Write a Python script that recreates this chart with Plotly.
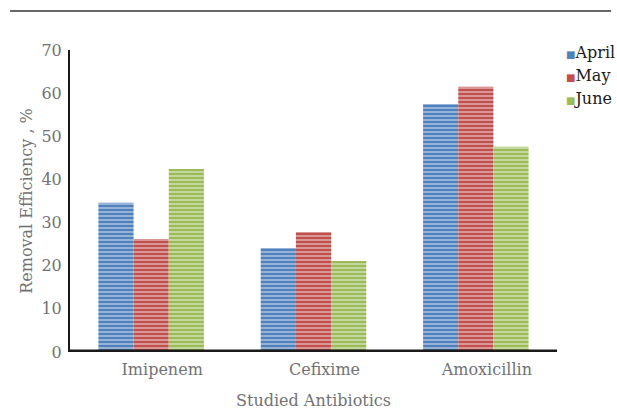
import plotly.graph_objects as go

# Removal efficiency (%) of each antibiotic by sampling month
antibiotics = ["Imipenem", "Cefixime", "Amoxicillin"]
months = ["April", "May", "June"]
april = [34.6, 24.1, 57.5]
may = [26.2, 27.8, 61.5]
june = [42.4, 21.1, 47.6]
y_ticks = [0, 10, 20, 30, 40, 50, 60, 70]

colors = {"April": "#4F81BD", "May": "#C0504D", "June": "#9BBB59"}
series = {"April": april, "May": may, "June": june}

font_family = "DejaVu Serif, Liberation Serif, serif"
label_grey = "#727272"

fig = go.Figure()
for m in months:
    fig.add_trace(go.Bar(
        name=m,
        x=antibiotics,
        y=series[m],
        showlegend=False,
        marker=dict(
            color=colors[m],
            line=dict(width=0),
            pattern=dict(shape="-", size=4, solidity=0.5,
                         fgcolor="rgba(255,255,255,0.8)", fillmode="overlay"),
        ),
    ))

# compact legend: a small coloured square followed by the month name
legend_notes = []
for i, m in enumerate(months):
    legend_notes.append(dict(
        xref="paper", yref="paper", x=1.014, y=0.993 - i * 0.076,
        xanchor="left", yanchor="middle", showarrow=False,
        text=f'<span style="color:{colors[m]};font-size:10px">■</span>{m}',
        font=dict(family=font_family, size=16, color="#1a1a1a"),
    ))

fig.update_layout(
    width=617, height=410,
    margin=dict(l=70, r=60, t=50, b=58, autoexpand=False),
    plot_bgcolor="white", paper_bgcolor="white",
    barmode="group", bargap=0.35, bargroupgap=0,
    font=dict(family=font_family, color=label_grey, size=16),
    showlegend=False,
    annotations=legend_notes,
    xaxis=dict(
        showgrid=False, showline=False, ticks="", zeroline=False,
        ticklabelstandoff=6, ticklabelshift=11,
        tickfont=dict(size=16, color=label_grey),
        title=dict(text="Studied Antibiotics", standoff=16,
                   font=dict(size=16, color=label_grey)),
    ),
    yaxis=dict(
        range=[0, 70], tickvals=y_ticks, showgrid=False, zeroline=False,
        showline=True, linecolor="#1a1a1a", linewidth=2, ticks="",
        ticklabelstandoff=3,
        tickfont=dict(size=16, color=label_grey),
        title=dict(text="Removal Efficiency , %", standoff=5,
                   font=dict(size=16, color=label_grey)),
    ),
    shapes=[
        # heavy baseline under the bars
        dict(type="line", xref="paper", yref="y", x0=0, x1=1, y0=0, y1=0,
             line=dict(color="#1a1a1a", width=5)),
        # rule across the top of the page
        dict(type="line", xref="paper", yref="paper", x0=-0.123, x1=1.111,
             y0=1.129, y1=1.129, line=dict(color="#333333", width=1.5)),
    ],
)

fig.write_html("out.html")
